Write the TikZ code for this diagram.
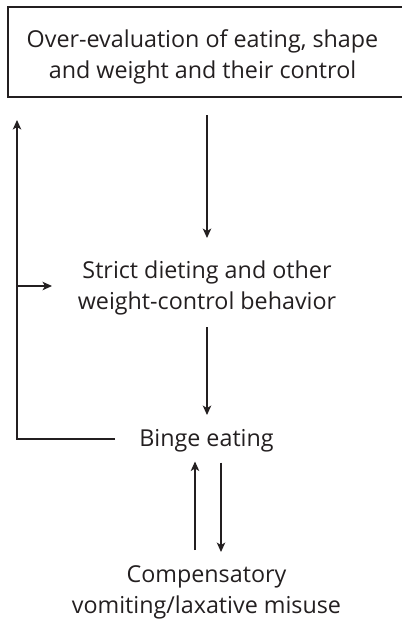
\documentclass[tikz,border=0pt]{standalone}
\usepackage{fontspec}
\setmainfont{Open Sans}
\usetikzlibrary{arrows.meta}
\definecolor{ink}{HTML}{231F20}
\tikzset{
  txt/.style={align=center, font=\fontsize{23.3}{31}\selectfont, text=ink, inner sep=0pt},
  frame/.style={draw=ink, line width=1.2pt},
  arr/.style={draw=ink, line width=1.2pt, -{Stealth[length=9.5pt,width=8.5pt,inset=2.5pt]}}
}
\begin{document}
\begin{tikzpicture}[x=1pt,y=-1pt]
\useasboundingbox (0,0) rectangle (402,622);
\draw[frame] (8,7) rectangle (420,97);
\node[txt] (over) at (202.5,56.4) {Over-evaluation of eating, shape\\and weight and their control};
\node[txt] (diet) at (207,288.4) {Strict dieting and other\\weight-control behavior};
\node[txt] (binge) at (206.5,440.9) {Binge eating};
\node[txt] (comp) at (206.5,592.4) {Compensatory\\vomiting/laxative misuse};
\coordinate (a1s) at (207,115);
\coordinate (a1e) at (207,238);
\coordinate (a2s) at (207,327);
\coordinate (a2e) at (207,415);
\coordinate (lh) at (115,439);
\coordinate (lc) at (17,439);
\coordinate (lt) at (17,120);
\coordinate (lb) at (17,286);
\coordinate (lbe) at (52,286);
\coordinate (us) at (195,550);
\coordinate (ue) at (195,461.5);
\coordinate (ds) at (221,462.5);
\coordinate (de) at (221,552);
\draw[arr] (a1s) -- (a1e);
\draw[arr] (a2s) -- (a2e);
\draw[arr] (lh) -- (lc) -- (lt);
\draw[arr] (lb) -- (lbe);
\draw[arr] (us) -- (ue);
\draw[arr] (ds) -- (de);
\end{tikzpicture}
\end{document}
